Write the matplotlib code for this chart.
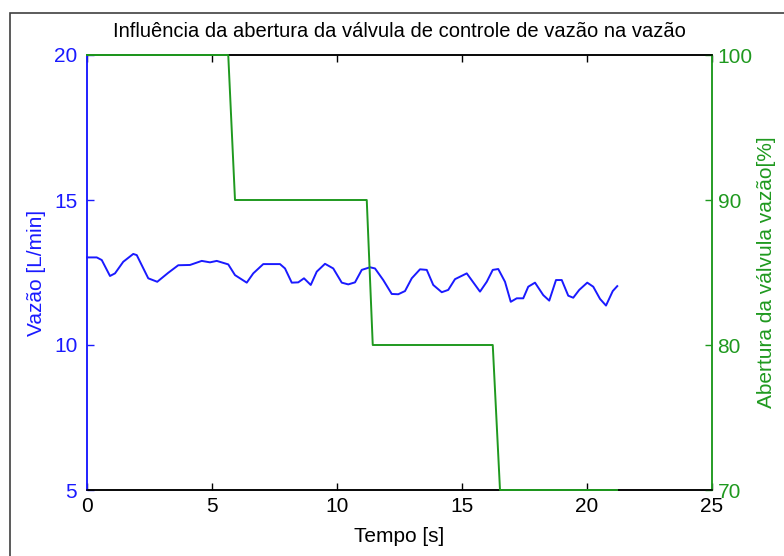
import numpy as np
import matplotlib.pyplot as plt
from matplotlib.patches import Rectangle

# vazao (blue, left axis)
tempo_vazao = [0.0, 0.39, 0.59, 0.92, 1.12, 1.45, 1.85, 1.99, 2.45, 2.81, 3.25, 3.65,
               4.12, 4.59, 4.92, 5.19, 5.65, 5.92, 6.39, 6.65, 7.05, 7.72, 7.92, 8.19,
               8.45, 8.68, 8.95, 9.19, 9.52, 9.85, 10.19, 10.45, 10.72, 10.99, 11.32,
               11.52, 11.85, 12.19, 12.45, 12.72, 12.99, 13.32, 13.59, 13.85, 14.19,
               14.45, 14.72, 15.19, 15.72, 15.99, 16.23, 16.45, 16.72, 16.95, 17.19,
               17.45, 17.65, 17.92, 18.25, 18.49, 18.76, 18.99, 19.25, 19.45, 19.69,
               20.01, 20.25, 20.52, 20.76, 21.03, 21.21]
vazao = [13.02, 13.02, 12.93, 12.38, 12.47, 12.87, 13.14, 13.10, 12.30, 12.18, 12.49,
         12.75, 12.76, 12.90, 12.85, 12.90, 12.78, 12.41, 12.15, 12.47, 12.79, 12.79,
         12.64, 12.15, 12.16, 12.30, 12.07, 12.53, 12.80, 12.64, 12.15, 12.09, 12.16,
         12.59, 12.68, 12.64, 12.24, 11.76, 11.75, 11.86, 12.30, 12.61, 12.59, 12.07,
         11.82, 11.90, 12.27, 12.47, 11.84, 12.18, 12.59, 12.62, 12.18, 11.49, 11.61,
         11.61, 12.01, 12.15, 11.72, 11.53, 12.24, 12.24, 11.70, 11.63, 11.90, 12.15,
         12.01, 11.59, 11.36, 11.86, 12.03]

# abertura da valvula (green, right axis)
tempo_valvula = [0.0, 5.65, 5.92, 11.19, 11.43, 16.23, 16.52, 21.2]
abertura = [100, 100, 90, 90, 80, 80, 70, 70]

azul = '#1a1aff'
verde = '#1f991f'

plt.rcParams['font.family'] = ['Liberation Sans', 'DejaVu Sans']

fig = plt.figure(figsize=(7.84, 5.56), dpi=100)
fig.patches.append(Rectangle((10 / 784, -0.1), 1.2, 1 - 13 / 556 + 0.1,
                             transform=fig.transFigure, fill=False,
                             edgecolor='#404040', lw=1.2))

ax = fig.add_axes([87 / 784, 1 - 490 / 556, 625 / 784, 435 / 556])
ax2 = ax.twinx()

ax.plot(tempo_vazao, vazao, color=azul, lw=1.4, clip_on=False, zorder=3)
ax2.plot(tempo_valvula, abertura, color=verde, lw=1.4, clip_on=False, zorder=3)

ax.set_xlim(0, 25)
ax.set_ylim(5, 20)
ax2.set_ylim(70, 100)
ax.set_xticks([0, 5, 10, 15, 20, 25])
ax.set_yticks([5, 10, 15, 20])
ax2.set_yticks([70, 80, 90, 100])

ax.tick_params(axis='x', direction='in', top=True, length=5, width=1, pad=5,
               labelsize=15, colors='black')
ax.tick_params(axis='y', direction='in', length=5, width=1, pad=7,
               labelsize=15, colors=azul)
ax2.tick_params(axis='y', direction='in', length=5, width=1, pad=4,
                labelsize=15, colors=verde)

for a in (ax, ax2):
    for s in a.spines.values():
        s.set_linewidth(1.1)
    a.spines['top'].set_color('black')
    a.spines['bottom'].set_color('black')
    a.spines['left'].set_color(azul)
    a.spines['right'].set_color(verde)

ax.set_title('Influência da abertura da válvula de controle de vazão na vazão',
             fontsize=14.5, pad=13)
ax.set_xlabel('Tempo [s]', fontsize=15, labelpad=8)
ax.set_ylabel('Vazão [L/min]', fontsize=15, color=azul, labelpad=6)
ax2.set_ylabel('Abertura da válvula vazão[%]', fontsize=15, color=verde, labelpad=3)

fig.savefig('out.png', dpi=100)
